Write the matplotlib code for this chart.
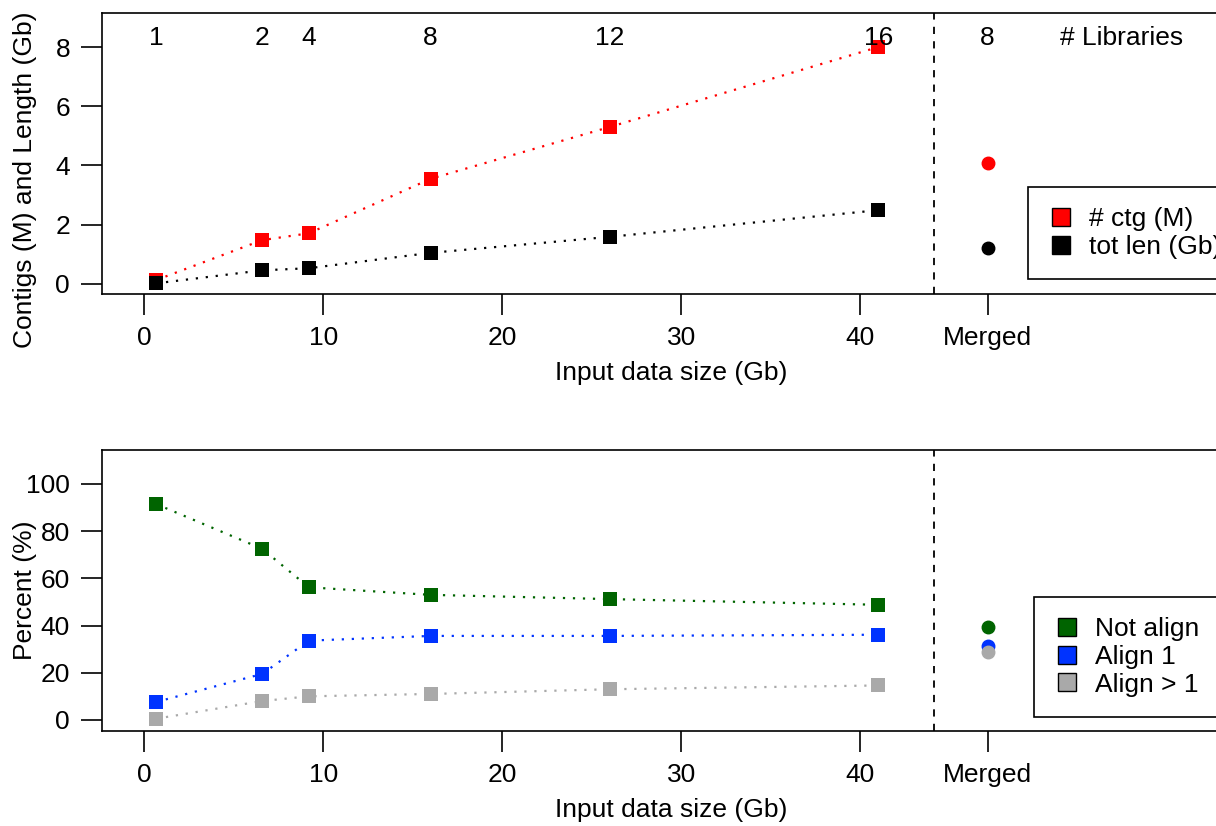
import matplotlib
matplotlib.use("Agg")
import matplotlib.pyplot as plt
from matplotlib.lines import Line2D

plt.rcParams['font.family'] = ['Liberation Sans', 'DejaVu Sans']
plt.rcParams['font.size'] = 19

# ===== Data =====
size_gb = [0.67, 6.6, 9.2, 16.0, 26.0, 41.0]
n_libs = ["1", "2", "4", "8", "12", "16"]
merged_x = 47.1
merged_libs = "8"
split_x = 44.1

ctg_m = [0.13, 1.48, 1.71, 3.55, 5.3, 8.0]
totlen_gb = [0.02, 0.46, 0.53, 1.05, 1.59, 2.49]
ctg_merged = 4.09
totlen_merged = 1.21

not_align = [91.5, 72.5, 56.2, 53.0, 51.2, 48.8]
align1 = [7.6, 19.5, 33.6, 35.6, 35.6, 36.1]
align_gt1 = [0.5, 8.0, 10.0, 11.0, 13.0, 14.6]
not_align_merged = 39.5
align1_merged = 31.2
align_gt1_merged = 28.9

RED = "#ff0000"
BLACK = "#000000"
GREEN = "#006400"
BLUE = "#0033ff"
GRAY = "#a9a9a9"

W, H = 1216, 826
fig = plt.figure(figsize=(W / 100, H / 100), dpi=100)

def px_axes(left, top, right, bottom):
    return fig.add_axes([left / W, 1 - bottom / H, (right - left) / W, (bottom - top) / H])

ax1 = px_axes(102, 13, 1240, 294)
ax2 = px_axes(102, 450, 1240, 731)

def style(ax, ylim, yticks):
    ax.set_xlim(-2.35, 61.2)
    ax.set_ylim(*ylim)
    ax.set_xticks([0, 10, 20, 30, 40, merged_x])
    ax.set_xticklabels(["0", "10", "20", "30", "40", "Merged"])
    ax.set_yticks(yticks)
    ax.tick_params(direction="out", length=15, width=1.2, pad=8)
    ax.tick_params(axis="y", pad=8)
    for s in ax.spines.values():
        s.set_linewidth(1.2)
    ax.axvline(split_x, color="black", linestyle=(0, (4, 4)), linewidth=1.3)
    ax.set_xlabel("Input data size (Gb)", labelpad=8)

line_kw = dict(linestyle=(0, (1, 3.5)), linewidth=1.6, marker="s", markersize=10.5, markeredgewidth=0)

# ===== Top panel =====
style(ax1, (-0.34, 9.15), [0, 2, 4, 6, 8])
ax1.plot(size_gb, ctg_m, color=RED, **line_kw)
ax1.plot(size_gb, totlen_gb, color=BLACK, **line_kw)
ax1.plot([merged_x], [ctg_merged], "o", color=RED, markersize=9)
ax1.plot([merged_x], [totlen_merged], "o", color=BLACK, markersize=9)
for x, lab in zip(size_gb, n_libs):
    ax1.text(x, 8.3, lab, ha="center", va="center")
ax1.text(merged_x, 8.3, merged_libs, ha="center", va="center")
ax1.text(54.6, 8.3, "# Libraries", ha="center", va="center")
ax1.set_ylabel("Contigs (M) and Length (Gb)")
ax1.yaxis.set_label_coords((37 - 102) / 1138, (294 - 180) / 281)

leg_kw = dict(loc="upper left", bbox_transform=fig.transFigure, fancybox=False,
              framealpha=1, edgecolor="black", handlelength=1.0, handletextpad=0.55,
              borderpad=0.75, labelspacing=0.15, borderaxespad=0)

def sq(c):
    return Line2D([], [], linestyle="none", marker="s", markersize=13,
                  markerfacecolor=c, markeredgecolor="black", markeredgewidth=1)

lg1 = ax1.legend([sq(RED), sq(BLACK)], ["# ctg (M)", "tot len (Gb)"],
                 bbox_to_anchor=(1028 / W, 1 - 187 / H), **leg_kw)
lg1.get_frame().set_linewidth(1.2)

# ===== Bottom panel =====
style(ax2, (-4.7, 114.4), [0, 20, 40, 60, 80, 100])
ax2.plot(size_gb, not_align, color=GREEN, **line_kw)
ax2.plot(size_gb, align1, color=BLUE, **line_kw)
ax2.plot(size_gb, align_gt1, color=GRAY, **line_kw)
ax2.plot([merged_x], [not_align_merged], "o", color=GREEN, markersize=9)
ax2.plot([merged_x], [align1_merged], "o", color=BLUE, markersize=9)
ax2.plot([merged_x], [align_gt1_merged], "o", color=GRAY, markersize=9)
ax2.set_ylabel("Percent (%)")
ax2.yaxis.set_label_coords((37 - 102) / 1138, 0.5)

lg2 = ax2.legend([sq(GREEN), sq(BLUE), sq(GRAY)], ["Not align", "Align 1", "Align > 1"],
                 bbox_to_anchor=(1034 / W, 1 - 597 / H), **leg_kw)
lg2.get_frame().set_linewidth(1.2)

fig.savefig("out.png", dpi=100)
